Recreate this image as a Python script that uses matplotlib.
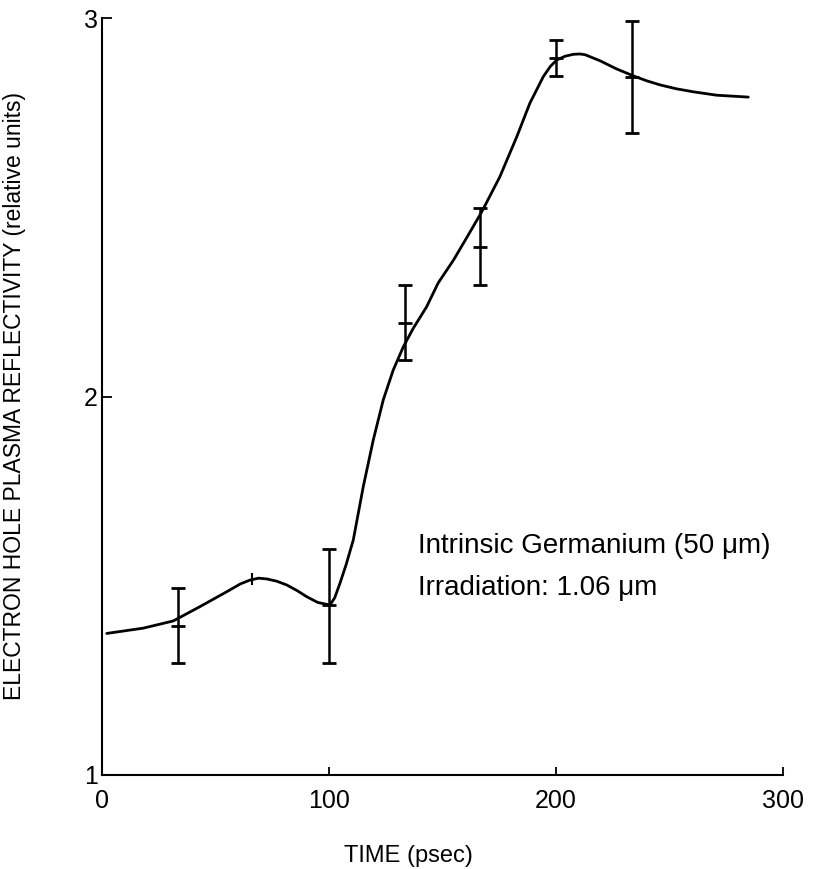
import matplotlib
matplotlib.use("Agg")
import matplotlib.pyplot as plt

plt.rcParams['font.family'] = ['Liberation Sans', 'DejaVu Sans']

# Smooth curve
curve_t = [2.1, 18.2, 31.4, 43.2, 54.9, 61.0, 65.2, 69.0, 72.6, 77.0, 81.4, 86.0, 90.2, 95.0, 100.4,
           102.5, 104.8, 107.5, 110.7, 115.1, 119.5, 123.9, 128.3, 132.8, 137.1, 143.0,
           148.1, 154.8, 160.7, 167.3, 175.3, 182.7, 188.5, 194.4, 197.5, 200.3,
           204.0, 207.6, 210.5, 212.8, 219.4, 226.5, 234.1, 240.0, 246.0, 253.0, 260.5, 270.8, 284.7]
curve_r = [1.374, 1.388, 1.407, 1.445, 1.484, 1.505, 1.515, 1.520, 1.518, 1.512, 1.502, 1.487, 1.471, 1.456, 1.449,
           1.468, 1.506, 1.555, 1.621, 1.762, 1.885, 1.991, 2.070, 2.132, 2.180, 2.237,
           2.300, 2.360, 2.420, 2.488, 2.581, 2.686, 2.775, 2.845, 2.872, 2.889,
           2.899, 2.904, 2.905, 2.903, 2.887, 2.866, 2.847, 2.834, 2.823, 2.813, 2.805, 2.796, 2.791]

# Measured points with error bars
pts_t = [33.3, 100.0, 133.3, 166.7, 200.0, 233.3]
pts_r = [1.394, 1.449, 2.193, 2.396, 2.894, 2.845]
err_lo = [1.295, 1.297, 2.096, 2.295, 2.847, 2.695]
err_hi = [1.493, 1.597, 2.295, 2.497, 2.942, 2.992]

# Point without error bar
peak_t = [65.9]
peak_r = [1.518]

x_ticks = [0, 100, 200, 300]
x_ticklabels = ['0', '100', '200', '300']
y_ticks = [1, 2, 3]
y_ticklabels = ['1', '2', '3']

fig = plt.figure(figsize=(8.17, 8.69), dpi=100)
ax = fig.add_axes([102/817, 1-775/869, (783-102)/817, (775-18)/869])

ax.plot(curve_t, curve_r, color='black', lw=2.0, solid_capstyle='round',
        solid_joinstyle='round')

yerr = [[r - lo for r, lo in zip(pts_r, err_lo)],
        [hi - r for r, hi in zip(pts_r, err_hi)]]
ax.errorbar(pts_t, pts_r, yerr=yerr, fmt='_', color='black', ms=10, mew=2,
            elinewidth=1.8, capsize=5, capthick=2)
ax.plot(peak_t, peak_r, marker='|', color='black', ms=9, mew=1.5, ls='none')

ax.set_xlim(0, 300)
ax.set_ylim(1, 3)
ax.set_xticks(x_ticks)
ax.set_xticklabels(x_ticklabels)
ax.set_yticks(y_ticks)
ax.set_yticklabels(y_ticklabels)

for s in ['top', 'right']:
    ax.spines[s].set_visible(False)
ax.spines['left'].set_linewidth(1.5)
ax.spines['bottom'].set_linewidth(1.5)

ax.tick_params(axis='x', direction='in', length=6, width=1.3, pad=10, labelsize=18)
ax.tick_params(axis='y', direction='in', length=7, width=1.3, pad=3, labelsize=18)

ax.set_xlabel('TIME (psec)', fontsize=17)
ax.xaxis.set_label_coords(0.45, -0.092)
ax.set_ylabel('ELECTRON HOLE PLASMA REFLECTIVITY (relative units)', fontsize=16.5)
ax.yaxis.set_label_coords(-0.112, 0.5)

ax.text(139, 1.587, 'Intrinsic Germanium (50 μm)', fontsize=20, va='baseline', ha='left')
ax.text(139, 1.476, 'Irradiation: 1.06 μm', fontsize=20, va='baseline', ha='left')

fig.savefig('out.png', dpi=100)
